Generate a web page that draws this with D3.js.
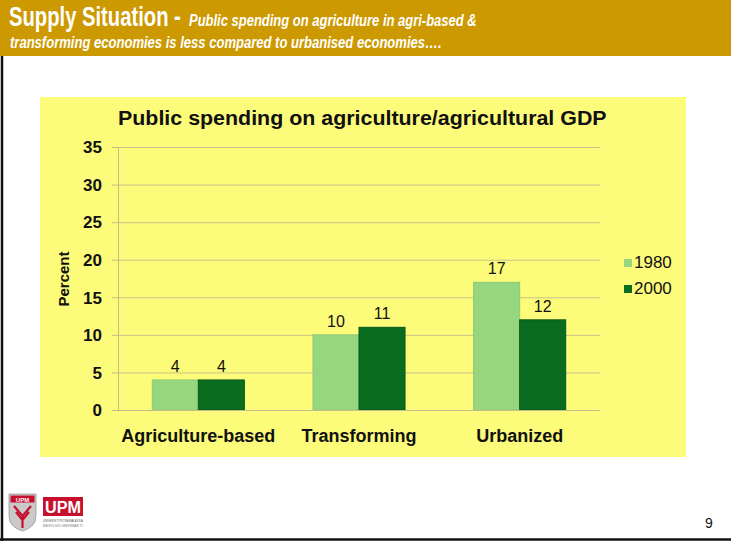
<!DOCTYPE html>
<html>
<head>
<meta charset="utf-8">
<script src="https://cdn.jsdelivr.net/npm/d3@7"></script>
<style>
  html, body { margin: 0; padding: 0; background: #ffffff; }
  svg { display: block; }
</style>
</head>
<body>
<svg id="slide" width="731" height="541"></svg>
<script>
// Public spending on agriculture as a share of agricultural GDP
const categories = ["Agriculture-based", "Transforming", "Urbanized"];
const seriesNames = ["1980", "2000"];
const values1980 = [4, 10, 17];
const values2000 = [4, 11, 12];
const yTicks = [0, 5, 10, 15, 20, 25, 30, 35];

const colors = { "1980": "#96d67e", "2000": "#0a6c1e" };
const font = "'Liberation Sans', Arial, sans-serif";

const svg = d3.select("#slide");

// Draws a line of text condensed horizontally so it spans the given width
function condensedText(parent, x, y, width, str) {
  const g = parent.append("g");
  const t = g.append("text").attr("x", 0).attr("y", 0).text(str);
  return {
    g, t,
    fit() {
      const natural = t.node().getComputedTextLength();
      g.attr("transform", `translate(${x},${y}) scale(${width / natural},1)`);
      return this;
    }
  };
}

// Slide frame
svg.append("rect").attr("x", 0).attr("y", 0).attr("width", 731).attr("height", 541).attr("fill", "#ffffff");
svg.append("rect").attr("x", 0).attr("y", 0).attr("width", 731).attr("height", 56).attr("fill", "#cc9900");
svg.append("line").attr("x1", 2).attr("x2", 2).attr("y1", 56).attr("y2", 541)
  .attr("stroke", "#111").attr("stroke-width", 2.5);
svg.append("line").attr("x1", 0).attr("x2", 731).attr("y1", 539.5).attr("y2", 539.5)
  .attr("stroke", "#111").attr("stroke-width", 2.5);

// Slide heading
const h1 = condensedText(svg, 9, 26, 172, "Supply Situation -");
h1.t.attr("fill", "#ffffff").attr("font-family", font).attr("font-weight", "bold").attr("font-size", 28);
h1.fit();
const h2 = condensedText(svg, 189, 26, 288, "Public spending on agriculture in agri-based &");
h2.t.attr("fill", "#ffffff").attr("font-family", font).attr("font-weight", "bold")
  .attr("font-style", "italic").attr("font-size", 17);
h2.fit();
const h3 = condensedText(svg, 10, 48, 432, "transforming economies is less compared to urbanised economies\u2026.");
h3.t.attr("fill", "#ffffff").attr("font-family", font).attr("font-weight", "bold")
  .attr("font-style", "italic").attr("font-size", 17);
h3.fit();

// Chart panel
svg.append("rect").attr("x", 40).attr("y", 97).attr("width", 646).attr("height", 360)
  .attr("fill", "#fdfb7a");

const title = condensedText(svg, 118, 125, 489, "Public spending on agriculture/agricultural GDP");
title.t.attr("font-family", font).attr("font-weight", "bold").attr("font-size", 20).attr("fill", "#111");
title.fit();

const plot = { left: 118, right: 600, top: 147, bottom: 410 };

const x = d3.scaleBand().domain(categories).range([plot.left, plot.right])
  .paddingInner(0.427).paddingOuter(0.2135);
const xSub = d3.scaleBand().domain(seriesNames).range([0, x.bandwidth()]);
const y = d3.scaleLinear().domain([0, 35]).range([plot.bottom, plot.top]);

// Gridlines and y axis
const yAxis = d3.axisLeft(y).tickValues(yTicks).tickSize(6).tickPadding(10);
const gy = svg.append("g").attr("transform", `translate(${plot.left},0)`).call(yAxis);
gy.select(".domain").attr("stroke", "#c4bd8a").attr("stroke-width", 1);
gy.selectAll(".tick line").attr("stroke", "#c4bd8a");
gy.selectAll(".tick text").attr("font-family", font).attr("font-weight", "bold")
  .attr("font-size", 17).attr("fill", "#111").attr("dy", "0.34em");
gy.selectAll(".tick").append("line")
  .attr("x1", 0).attr("x2", plot.right - plot.left)
  .attr("stroke", "#c9c28c").attr("stroke-width", 1);

svg.append("text")
  .attr("transform", `translate(69,279) rotate(-90)`)
  .attr("text-anchor", "middle")
  .attr("font-family", font).attr("font-weight", "bold").attr("font-size", 15)
  .attr("fill", "#111").text("Percent");

// Bars
const rows = categories.map((c, i) => ({
  category: c,
  items: [
    { series: "1980", value: values1980[i] },
    { series: "2000", value: values2000[i] }
  ]
}));

const groups = svg.append("g").selectAll("g").data(rows).join("g")
  .attr("transform", d => `translate(${x(d.category)},0)`);

groups.selectAll("rect").data(d => d.items).join("rect")
  .attr("x", d => xSub(d.series))
  .attr("y", d => y(d.value))
  .attr("width", xSub.bandwidth())
  .attr("height", d => y(0) - y(d.value))
  .attr("fill", d => colors[d.series])
  .attr("stroke", d => d.series === "2000" ? "#075a17" : "#8dcc76")
  .attr("stroke-width", 1);

groups.selectAll("text").data(d => d.items).join("text")
  .attr("x", d => xSub(d.series) + xSub.bandwidth() / 2)
  .attr("y", d => y(d.value) - 8)
  .attr("text-anchor", "middle")
  .attr("font-family", font).attr("font-size", 16).attr("fill", "#111")
  .text(d => d.value);

// Category axis
svg.append("line").attr("x1", plot.left).attr("x2", plot.right)
  .attr("y1", plot.bottom + 0.5).attr("y2", plot.bottom + 0.5)
  .attr("stroke", "#c4bd8a");
svg.append("g").selectAll("text").data(categories).join("text")
  .attr("x", d => x(d) + x.bandwidth() / 2)
  .attr("y", 442)
  .attr("text-anchor", "middle")
  .attr("font-family", font).attr("font-weight", "bold").attr("font-size", 18)
  .attr("fill", "#111").text(d => d);

// Legend
const legend = svg.append("g").selectAll("g").data(seriesNames).join("g")
  .attr("transform", (d, i) => `translate(624,${259 + i * 26})`);
legend.append("rect").attr("width", 8).attr("height", 8).attr("fill", d => colors[d]);
legend.append("text").attr("x", 10).attr("y", 8.5)
  .attr("font-family", font).attr("font-size", 17).attr("fill", "#111")
  .text(d => d);

// Footer: university mark and page number
const logo = svg.append("g").attr("transform", "translate(9,494)");
logo.append("path")
  .attr("d", "M0,0 H27 V22 Q27,33 13.5,37 Q0,33 0,22 Z")
  .attr("fill", "#c9c9c9").attr("stroke", "#9a9a9a").attr("stroke-width", 0.8);
logo.append("rect").attr("x", 1.5).attr("y", 1.5).attr("width", 24).attr("height", 7).attr("fill", "#c8102e");
logo.append("text").attr("x", 13.5).attr("y", 7.5).attr("text-anchor", "middle")
  .attr("font-family", font).attr("font-weight", "bold").attr("font-size", 6).attr("fill", "#fff").text("UPM");
logo.append("path")
  .attr("d", "M13.5,34 L13.5,20 M13.5,22 L5,12 M13.5,22 L22,12 M13.5,26 L7,18 M13.5,26 L20,18")
  .attr("stroke", "#c8102e").attr("stroke-width", 2.2).attr("fill", "none");
logo.append("rect").attr("x", 34).attr("y", 3).attr("width", 40).attr("height", 19).attr("fill", "#c8102e");
const upm = condensedText(logo, 36, 19, 36, "UPM");
upm.t.attr("font-family", font).attr("font-weight", "bold").attr("font-size", 17).attr("fill", "#fff");
upm.fit();
const sub1 = condensedText(logo, 34, 28, 40, "UNIVERSITI PUTRA MALAYSIA");
sub1.t.attr("font-family", font).attr("font-size", 3.5).attr("fill", "#555");
sub1.fit();
const sub2 = condensedText(logo, 34, 33, 40, "BERILMU BERBAKTI");
sub2.t.attr("font-family", font).attr("font-size", 3.5).attr("fill", "#888");
sub2.fit();

svg.append("text").attr("x", 709).attr("y", 528).attr("text-anchor", "middle")
  .attr("font-family", font).attr("font-size", 14).attr("fill", "#111").text("9");
</script>
</body>
</html>
